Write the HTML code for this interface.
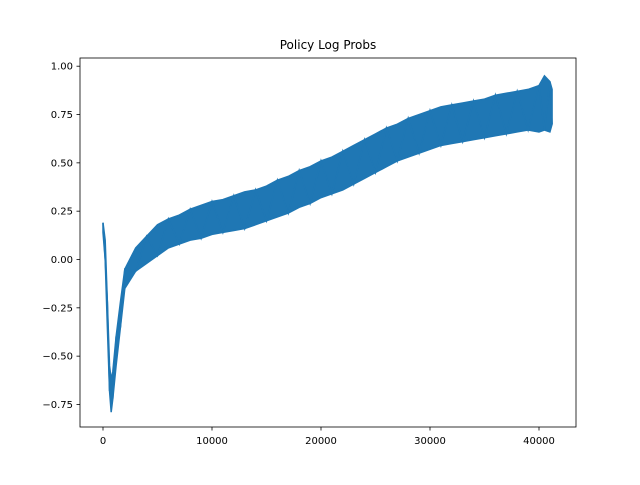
<!DOCTYPE html>
<html><head><meta charset="utf-8"><style>
body{margin:0;background:#fff;font-family:"Liberation Sans","DejaVu Sans",sans-serif}
svg text{font-family:"DejaVu Sans","Liberation Sans",sans-serif;font-size:10px;fill:#000}
</style></head><body>
<svg id="chart" width="640" height="480">
<rect width="640" height="480" fill="#fff"/>
<text x="328" y="49" text-anchor="middle" style="font-size:12px">Policy Log Probs</text>
<g id="plot"></g>
<rect x="80" y="58" width="496" height="369" fill="none" stroke="#000" stroke-width="0.8"/>
<g id="xt"></g><g id="yt"></g>
</svg>
<script>
const steps=[0,200,400,600,750,900,1200,1600,2000,3000,4000,5000,6000,7000,8000,9000,10000,11000,12000,13000,14000,15000,16000,17000,18000,19000,20000,21000,22000,23000,24000,25000,26000,27000,28000,29000,30000,31000,32000,33000,34000,35000,36000,37000,38000,39000,40000,40500,41000,41200];
const lowVals=[0.14,0.0,-0.35,-0.68,-0.79,-0.72,-0.55,-0.35,-0.15,-0.06,-0.02,0.02,0.06,0.08,0.1,0.11,0.13,0.14,0.15,0.16,0.18,0.2,0.22,0.24,0.27,0.29,0.32,0.34,0.36,0.39,0.42,0.45,0.48,0.51,0.53,0.55,0.57,0.59,0.6,0.61,0.62,0.63,0.64,0.65,0.66,0.67,0.66,0.67,0.66,0.7];
const highVals=[0.19,0.1,-0.22,-0.55,-0.62,-0.58,-0.4,-0.22,-0.05,0.06,0.12,0.18,0.21,0.23,0.26,0.28,0.3,0.31,0.33,0.35,0.36,0.38,0.41,0.43,0.46,0.48,0.51,0.53,0.56,0.59,0.62,0.65,0.68,0.7,0.73,0.75,0.77,0.79,0.8,0.81,0.82,0.83,0.85,0.86,0.87,0.88,0.9,0.95,0.92,0.88];
const xTicks=[0,10000,20000,30000,40000];
const yTicks=[-0.75,-0.5,-0.25,0,0.25,0.5,0.75,1.0];
const X=v=>103+v*0.0109, Y=v=>259.5-v*193.3;
const NS="http://www.w3.org/2000/svg";
const plot=document.getElementById('plot');
let band="";
steps.forEach((s,i)=>band+=(i?"L":"M")+X(s)+","+Y(highVals[i]));
for(let i=steps.length-1;i>=0;i--)band+="L"+X(steps[i])+","+Y(lowVals[i]);
const area=document.createElementNS(NS,'path');
area.setAttribute('d',band+"Z");area.setAttribute('fill','#1f77b4');area.setAttribute('stroke','#1f77b4');area.setAttribute('stroke-width','1.5');


plot.appendChild(area);
let zz="";
steps.forEach((s,i)=>{zz+=(i?"L":"M")+X(s)+","+Y(i%2?lowVals[i]:highVals[i]);});
const line=document.createElementNS(NS,'path');
line.setAttribute('d',zz);line.setAttribute('fill','none');line.setAttribute('stroke','#1f77b4');line.setAttribute('stroke-width','1.5');


plot.appendChild(line);
const xt=document.getElementById('xt'),yt=document.getElementById('yt');
xTicks.forEach(v=>{const g=document.createElementNS(NS,'g');


g.innerHTML=`<line x1="${X(v)}" x2="${X(v)}" y1="427" y2="430.5" stroke="#000" stroke-width="0.8"/><text x="${X(v)}" y="444" text-anchor="middle">${v}</text>`;xt.appendChild(g);});
yTicks.forEach(v=>{const g=document.createElementNS(NS,'g');


g.innerHTML=`<line x1="76.5" x2="80" y1="${Y(v)}" y2="${Y(v)}" stroke="#000" stroke-width="0.8"/><text x="73" y="${Y(v)+3.5}" text-anchor="end">${v<0?'\u2212':''}${Math.abs(v).toFixed(2)}</text>`;yt.appendChild(g);});
</script>
</body></html>
